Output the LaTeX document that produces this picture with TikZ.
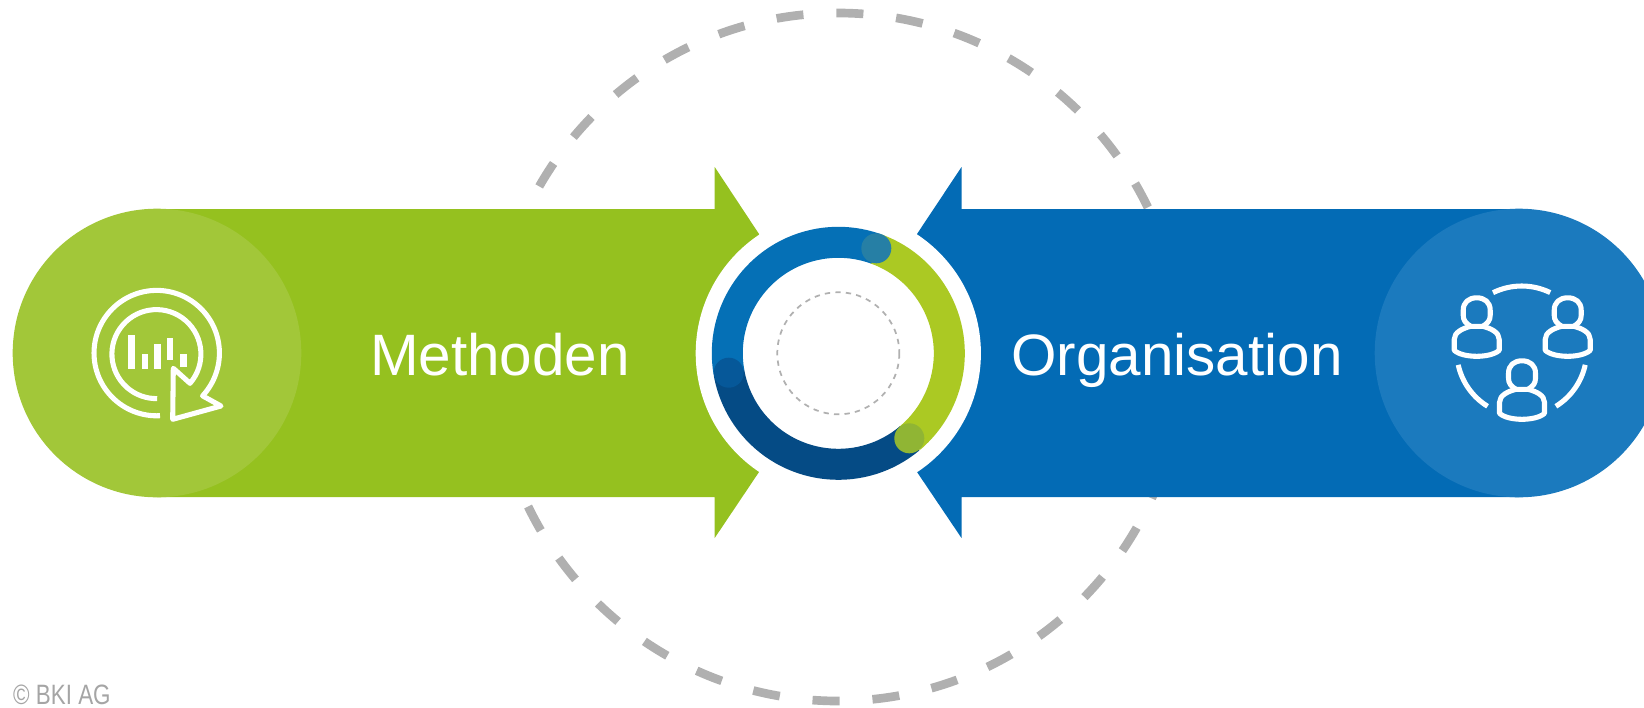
\documentclass[tikz,border=0pt]{standalone}
\usepackage{fontspec}
\setmainfont{Liberation Sans}
\definecolor{arrowgreen}{RGB}{149,193,31}
\definecolor{lightgreen}{RGB}{162,199,57}
\definecolor{arrowblue}{RGB}{3,107,181}
\definecolor{lightblue}{RGB}{27,122,190}
\definecolor{ringgreen}{RGB}{171,201,35}
\definecolor{ringblue}{RGB}{5,112,182}
\definecolor{ringdark}{RGB}{5,75,133}
\definecolor{dotteal}{RGB}{38,127,165}
\definecolor{dotgreen}{RGB}{144,181,52}
\definecolor{dotdark}{RGB}{6,88,153}
\definecolor{dashgray}{RGB}{176,176,176}
\definecolor{bkigray}{RGB}{165,165,165}
\tikzset{
  iconline/.style={draw=white,line width=3.8pt,line join=round},
  ringarc/.style={line width=23.25pt},
  bigtext/.style={anchor=base,inner sep=0.75pt,text=white,font=\fontsize{43.8}{50}\selectfont},
  personicon/.pic={
    \draw [iconline] (-6,-2) .. controls (-11,-5) and (-13.5,-8) .. (-13.5,-13) -- (-13.5,-18) .. controls (-13.5,-26) and (-8,-30.5) .. (0,-30.5) .. controls (8,-30.5) and (13.5,-26) .. (13.5,-18) -- (13.5,-13) .. controls (13.5,-8) and (11,-5) .. (6,-2) ;
    \draw [iconline] (-6,-2) .. controls (-14,0) and (-22.5,4) .. (-22.5,11) -- (-22.5,22) .. controls (-14,30) and (14,30) .. (22.5,22) -- (22.5,11) .. controls (22.5,4) and (14,0) .. (6,-2) -- cycle ;
  }
}
\begin{document}
\begin{tikzpicture}[x=0.75pt,y=0.75pt,yscale=-1,xscale=1]
    \clip (0,0) rectangle (1644,707);

    %Shape: dashed circle behind the arrows
    \draw [dashgray,line width=6.5pt,dash pattern=on 20.3pt off 24.73pt,dash phase=1.1pt] (838,357) circle (344);

    %Shape: left arrow
    \fill [arrowgreen] (157,209) -- (714.7,209) -- (714.7,167) -- (759,234) -- (759,472) -- (714.7,538) -- (714.7,497) -- (157,497) -- cycle ;
    %Shape: right arrow
    \fill [arrowblue] (1519,209) -- (961.5,209) -- (961.5,167) -- (917,234) -- (917,472) -- (961.5,538) -- (961.5,497) -- (1519,497) -- cycle ;
    %Shape: end circles
    \fill [lightgreen] (157,353) circle (144.3);
    \fill [lightblue] (1519,353) circle (144.3);

    %Shape: ring
    \fill [white] (838.3,353.3) circle (142.6);
    \draw [ringarc,ringgreen] (838.3,353.3) ++(-70:111) arc (-70:50:111);
    \draw [ringarc,ringdark] (838.3,353.3) ++(50:111) arc (50:170:111);
    \draw [ringarc,ringblue] (838.3,353.3) ++(170:111) arc (170:290:111);
    \fill [dotteal] (876.3,248.3) circle (15);
    \fill [dotgreen] (909.3,438.3) circle (15);
    \fill [dotdark] (728.7,372.7) circle (15);
    \draw [dashgray,line width=1.3pt,dash pattern=on 4pt off 3.9pt] (838.3,353.3) circle (61);

    %Shape: icon left
    \draw [iconline] (160,415.7) arc (87:403:62.7) -- (221,406) -- (172.7,419.3) -- (173.3,368.3) -- (190,383.3) arc (41:-271:44.5) ;
    \foreach \barx/\bartop/\barend in {128.3/335/369.3,141.7/354/369.3,154.3/344/369.3,166.7/338.3/360,180/354/367}
      \fill [white] (\barx,\bartop) rectangle (\barx+6.6,\barend);

    %Shape: icon right
    \draw [iconline] (1521.7,351) ++(243.8:65) arc (243.8:296:65);
    \draw [iconline] (1521.7,351) ++(12.3:65) arc (12.3:58.3:65);
    \draw [iconline] (1521.7,351) ++(121.7:65) arc (121.7:167.7:65);
    \pic [yscale=-1] at (1476.7,328.3) {personicon};
    \pic [yscale=-1] at (1567.7,328.3) {personicon};
    \pic [yscale=-1] at (1522,391.3) {personicon};

    % Text Node
    \node (methoden) at (500,375) [bigtext] {Methoden};
    % Text Node
    \node (organisation) at (1177,375) [bigtext] {Organisation};
    % Text Node
    \node (copyright) at (13,704) [anchor=base west,inner sep=0pt,xscale=0.8,text=bkigray,font=\fontsize{21}{24}\selectfont] {© BKI AG};

\end{tikzpicture}
\end{document}
